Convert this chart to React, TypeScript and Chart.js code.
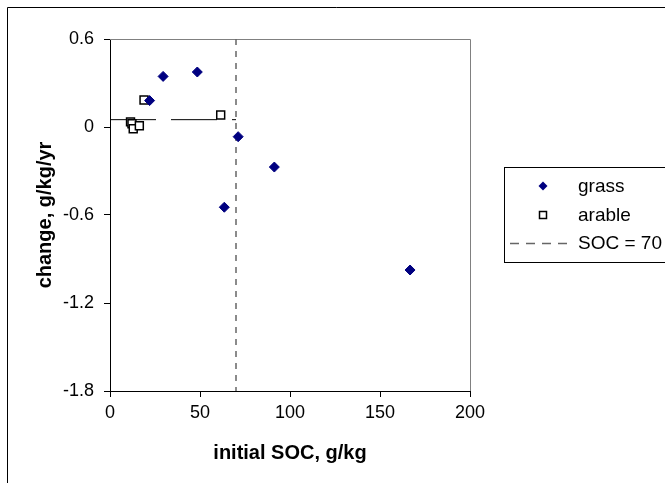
import React, { useEffect, useRef } from 'react';
import { Chart, registerables } from 'chart.js';

Chart.register(...registerables);

// ---- data ----
const grassSOC = [22, 29.5, 48.5, 63.5, 71.2, 91.3, 166.7];
const grassChange = [0.18, 0.345, 0.375, -0.547, -0.066, -0.273, -0.975];
const arableSOC = [11.4, 12.2, 12.9, 16.3, 18.9, 61.5];
const arableChange = [0.035, 0.022, -0.012, 0.009, 0.184, 0.082];
const socThreshold = 70;
const arableMeanChange = 0.05;
const xTicks = [0, 50, 100, 150, 200];
const yTicks = [-1.8, -1.2, -0.6, 0, 0.6];
const seriesLabels = ['grass', 'arable', 'SOC = 70'];
const xTitle = 'initial SOC, g/kg';
const yTitle = 'change, g/kg/yr';

const FONT = '"Liberation Sans", Arial, sans-serif';
const W = 658;
const H = 476;

const framePlugin = {
  id: 'frame',
  beforeDraw(chart: any) {
    const ctx = chart.ctx;
    ctx.save();
    ctx.fillStyle = '#fff';
    ctx.fillRect(0, 0, chart.width, chart.height);
    ctx.strokeStyle = '#000';
    ctx.lineWidth = 1;
    ctx.beginPath();
    ctx.moveTo(0.5, chart.height);
    ctx.lineTo(0.5, 0.5);
    ctx.lineTo(chart.width, 0.5);
    ctx.stroke();
    ctx.restore();
  },
  beforeDatasetsDraw(chart: any) {
    const { ctx, chartArea } = chart;
    ctx.save();
    ctx.strokeStyle = '#808080';
    ctx.lineWidth = 1;
    ctx.beginPath();
    ctx.moveTo(Math.round(chartArea.left), Math.round(chartArea.top) + 0.5);
    ctx.lineTo(Math.round(chartArea.right) + 0.5, Math.round(chartArea.top) + 0.5);
    ctx.lineTo(Math.round(chartArea.right) + 0.5, Math.round(chartArea.bottom));
    ctx.stroke();
    ctx.restore();
  },
};

const legendPlugin = {
  id: 'boxLegend',
  afterDraw(chart: any) {
    const ctx = chart.ctx;
    const bx = 497.5;
    const by = 160.5;
    const bh = 95;
    ctx.save();
    ctx.strokeStyle = '#000';
    ctx.lineWidth = 1;
    ctx.strokeRect(bx, by, 300, bh);
    const rowY = [179, 208, 236];
    const markerX = 536;
    const textX = 571;
    ctx.font = `19px ${FONT}`;
    ctx.textBaseline = 'middle';
    ctx.textAlign = 'left';
    // grass diamond
    ctx.fillStyle = '#000080';
    ctx.beginPath();
    ctx.moveTo(markerX - 4.5, rowY[0]);
    ctx.lineTo(markerX, rowY[0] - 4.5);
    ctx.lineTo(markerX + 4.5, rowY[0]);
    ctx.lineTo(markerX, rowY[0] + 4.5);
    ctx.closePath();
    ctx.fill();
    // arable square
    ctx.fillStyle = '#fff';
    ctx.strokeStyle = '#000';
    ctx.lineWidth = 1.5;
    ctx.fillRect(markerX - 3.5, rowY[1] - 3.5, 7, 7);
    ctx.strokeRect(markerX - 3.5, rowY[1] - 3.5, 7, 7);
    // dashed line
    ctx.strokeStyle = '#666';
    ctx.lineWidth = 1.5;
    ctx.setLineDash([9, 7]);
    ctx.beginPath();
    ctx.moveTo(503, rowY[2] + 0.5);
    ctx.lineTo(560, rowY[2] + 0.5);
    ctx.stroke();
    ctx.setLineDash([]);
    ctx.fillStyle = '#000';
    seriesLabels.forEach((t, i) => ctx.fillText(t, textX, rowY[i] + 1));
    ctx.restore();
  },
};

export default function App() {
  const ref = useRef<HTMLCanvasElement | null>(null);
  useEffect(() => {
    if (!ref.current) return;
    const chart = new Chart(ref.current, {
      type: 'scatter',
      data: {
        datasets: [
          {
            label: seriesLabels[0],
            data: grassSOC.map((x, i) => ({ x, y: grassChange[i] })),
            pointStyle: 'rectRot',
            pointRadius: 5,
            backgroundColor: '#000080',
            borderColor: '#000080',
            borderWidth: 1,
          },
          {
            label: seriesLabels[1],
            data: arableSOC.map((x, i) => ({ x, y: arableChange[i] })),
            pointStyle: 'rect',
            pointRadius: 5.6,
            backgroundColor: '#ffffff',
            borderColor: '#000000',
            borderWidth: 1.5,
          },
          {
            label: seriesLabels[2],
            data: [
              { x: socThreshold, y: yTicks[yTicks.length - 1] },
              { x: socThreshold, y: yTicks[0] },
            ],
            showLine: true,
            pointRadius: 0,
            borderColor: '#666666',
            borderWidth: 1.5,
            borderDash: [6, 6],
          },
          {
            label: 'arable mean',
            data: [
              { x: xTicks[0], y: arableMeanChange },
              { x: socThreshold, y: arableMeanChange },
            ],
            showLine: true,
            pointRadius: 0,
            borderColor: '#000000',
            borderWidth: 1,
            borderDash: [46, 15],
          },
        ],
      },
      options: {
        animation: false,
        responsive: false,
        devicePixelRatio: 1,
        layout: { padding: { left: 0, top: 32, right: 195, bottom: 0 } },
        plugins: { legend: { display: false }, tooltip: { enabled: false } },
        scales: {
          x: {
            type: 'linear',
            min: xTicks[0],
            max: xTicks[xTicks.length - 1],
            afterBuildTicks: (s: any) => {
              s.ticks = xTicks.map((v) => ({ value: v }));
            },
            afterFit: (s: any) => {
              s.height = 92;
            },
            grid: { drawOnChartArea: false, drawTicks: true, tickLength: 6, color: '#000' },
            border: { display: true, color: '#000', width: 1 },
            ticks: {
              color: '#000',
              font: { family: FONT, size: 18 },
              padding: 5,
              maxRotation: 0,
              autoSkip: false,
              callback: (v: any) => String(v),
            },
            title: {
              display: true,
              text: xTitle,
              color: '#000',
              font: { family: FONT, size: 20, weight: 'bold' },
              padding: { top: 0, bottom: 18 },
            },
          },
          y: {
            type: 'linear',
            min: yTicks[0],
            max: yTicks[yTicks.length - 1],
            afterBuildTicks: (s: any) => {
              s.ticks = yTicks.map((v) => ({ value: v }));
            },
            afterFit: (s: any) => {
              s.width = 103;
            },
            grid: { drawOnChartArea: false, drawTicks: true, tickLength: 6, color: '#000' },
            border: { display: true, color: '#000', width: 1 },
            ticks: {
              color: '#000',
              font: { family: FONT, size: 18 },
              padding: 10,
              autoSkip: false,
              callback: (v: any) => String(v),
            },
            title: {
              display: true,
              text: yTitle,
              color: '#000',
              font: { family: FONT, size: 20, weight: 'bold' },
              padding: { top: 26, bottom: 0 },
            },
          },
        },
      },
      plugins: [framePlugin, legendPlugin],
    } as any);
    return () => chart.destroy();
  }, []);
  return (
    <canvas
      ref={ref}
      width={W}
      height={H}
      style={{ position: 'fixed', left: 7, top: 7, width: W, height: H }}
    />
  );
}
